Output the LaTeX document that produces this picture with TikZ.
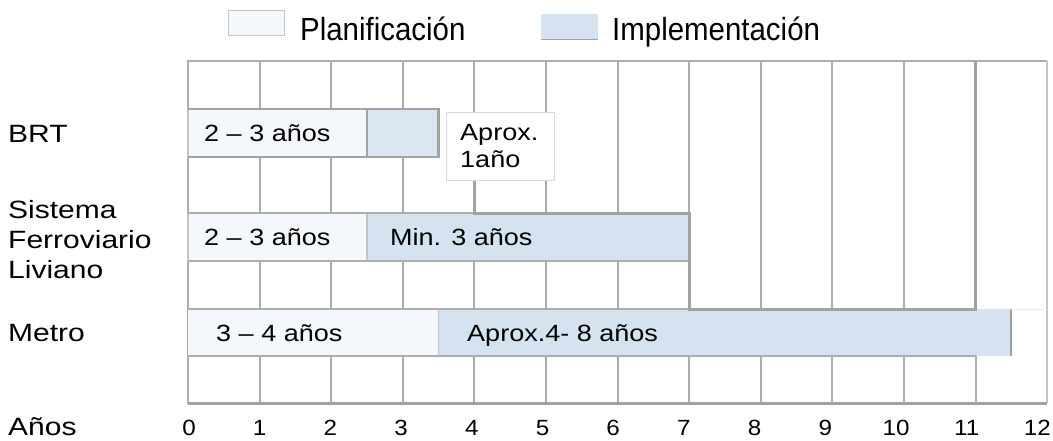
\documentclass[tikz,border=0pt]{standalone}
\usepackage{fontspec}
\setmainfont{Liberation Sans}
\newfontfamily\rowfont[FakeStretch=1.2]{Liberation Sans}
\newfontfamily\barfont[FakeStretch=1.15]{Liberation Sans}
\newfontfamily\numfont[FakeStretch=1.1]{Liberation Sans}
\newfontfamily\legfont[FakeStretch=0.92]{Liberation Sans}
\definecolor{gridgray}{HTML}{ADADAD}
\definecolor{thickgray}{HTML}{A2A2A2}
\definecolor{lightgray2}{HTML}{C4C4C4}
\definecolor{planfill}{HTML}{F4F8FC}
\definecolor{implfill}{HTML}{D5E2EF}
\definecolor{implfillb}{HTML}{DCE6F2}
\newcommand{\xx}[1]{188+#1*71.6}
\tikzset{
  gridline/.style={draw=gridgray, line width=2pt},
  thickline/.style={draw=thickgray, line width=3pt, line join=miter},
  planbar/.style={fill=planfill, draw=lightgray2, line width=1.5pt},
  implbar/.style={fill=implfill, draw=lightgray2, line width=1.5pt},
  rowlabel/.style={anchor=base west, inner sep=0pt, font=\rowfont\fontsize{25}{30}\selectfont},
  bartext/.style={anchor=base west, inner sep=0pt, font=\barfont\fontsize{23.5}{28}\selectfont},
  ticklabel/.style={anchor=base, inner sep=0pt, font=\numfont\fontsize{22}{26}\selectfont},
  legendtext/.style={anchor=base west, inner sep=0pt, font=\legfont\fontsize{32}{38}\selectfont},
}
\begin{document}
\begin{tikzpicture}[x=1pt, y=-1pt]
\fill[white] (0,0) rectangle (1053,440);
\useasboundingbox (0,0) rectangle (1053,440);

% legend
\fill[planfill] (228,10) rectangle (284,35);
\draw[lightgray2, line width=0.8pt] (228,10) rectangle (284,35);
\node[legendtext] (lplan) at (300,40) {Planificación};
\fill[implfill] (541,14) rectangle (598,39);
\draw[thickgray, line width=1pt] (541,39) -- (598,39);
\node[legendtext] (limpl) at (612,40) {Implementación};

% vertical grid lines
\foreach \i in {1,...,11} {
  \draw[gridline] ({\xx{\i}},61) -- ({\xx{\i}},403);
}
% outer border
\draw[gridline] ({\xx{0}},61) -- ({\xx{12}},61);
\draw[gridline] ({\xx{0}},60) -- ({\xx{0}},404);
\draw[draw=lightgray2, line width=1.5pt] ({\xx{12}},61) -- ({\xx{12}},403);
\draw[thickline] ({\xx{0}},403) -- ({\xx{12}},403);

% BRT bars
\draw[planbar] ({\xx{0}},109) rectangle ({\xx{2.5}},157);
\fill[implfillb] ({\xx{2.5}},109) rectangle ({\xx{3.5}},157);
\draw[draw=thickgray, line width=2.5pt] ({\xx{2.5}},109) rectangle ({\xx{3.5}},157);
\draw[draw=thickgray, line width=2pt] ({\xx{0}},109) -- ({\xx{2.5}},109);
\draw[draw=thickgray, line width=2pt] ({\xx{0}},157) -- ({\xx{2.5}},157);

% LRT bars
\draw[planbar] ({\xx{0}},213) rectangle ({\xx{2.5}},261);
\draw[implbar] ({\xx{2.5}},213) rectangle ({\xx{7}},261);
\draw[gridline] ({\xx{0}},213) -- ({\xx{4}},213);
\draw[gridline] ({\xx{0}},261) -- ({\xx{7}},261);

% Metro bars
\fill[planfill] ({\xx{0}},309) rectangle ({\xx{3.5}},356);
\fill[implfill] ({\xx{3.5}},309) rectangle ({\xx{11.5}},356);
\draw[gridline] ({\xx{0}},309) -- ({\xx{7}},309);
\draw[gridline] ({\xx{0}},356) -- ({\xx{11}},356);
\draw[draw=lightgray2, line width=1.5pt] ({\xx{3.5}},309) -- ({\xx{3.5}},356);
\draw[draw=thickgray, line width=2pt] ({\xx{11.5}},309) -- ({\xx{11.5}},356);
\draw[draw=black!8, line width=1pt] ({\xx{11.5}},309) -- ({\xx{12}},309);

% thick stepped outline
\draw[thickline] ({\xx{4}},180) -- ({\xx{4}},213) -- ({\xx{7}},213) -- ({\xx{7}},309) -- ({\xx{11}},309) -- ({\xx{11}},61);

% Aprox box
\draw[fill=white, draw=black!15, line width=0.8pt] (446,112) rectangle (554,180);
\node[bartext] (aprox1) at (460,140) {Aprox.};
\node[bartext] (aprox2) at (460,167) {1año};

% bar texts
\node[bartext] (brtplan) at (204,141) {2 – 3 años};
\node[bartext] (lrtplan) at (204,245) {2 – 3 años};
\node[bartext] (lrtimpl) at (390,245) {Min. 3 años};
\node[bartext] (metplan) at (216,341) {3 – 4 años};
\node[bartext] (metimpl) at (467,341) {Aprox.4- 8 años};

% row labels
\node[rowlabel] (brt) at (8,142) {BRT};
\node[rowlabel] (sis1) at (8,218) {Sistema};
\node[rowlabel] (sis2) at (8,248) {Ferroviario};
\node[rowlabel] (sis3) at (8,278) {Liviano};
\node[rowlabel] (metro) at (8,341) {Metro};
\node[rowlabel] (anos) at (8,435) {Años};

% tick labels
\foreach \i in {0,...,12} {
  \node[ticklabel] (t\i) at ({189+\i*70.7},435) {\i};
}
\end{tikzpicture}
\end{document}
